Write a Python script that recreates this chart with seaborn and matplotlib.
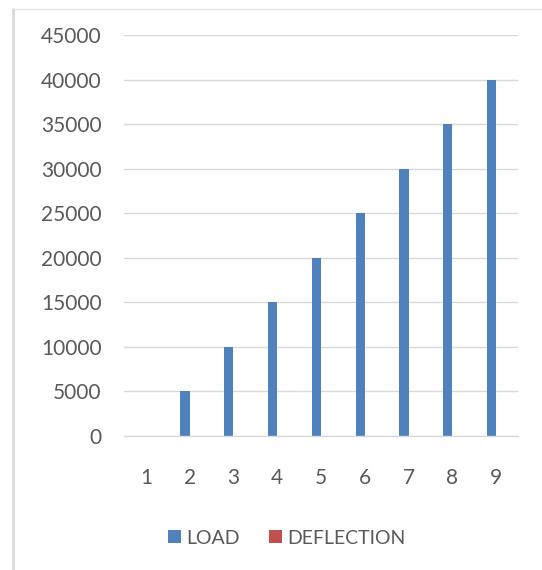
import matplotlib
matplotlib.use("Agg")
import matplotlib.pyplot as plt
from matplotlib.patches import Patch
import seaborn as sns
import pandas as pd

# Test readings per step
steps = ["1", "2", "3", "4", "5", "6", "7", "8", "9"]
load = [0, 5000, 10000, 15000, 20000, 25000, 30000, 35000, 40000]
deflection = [0, 0, 0, 0, 0, 0, 0, 0, 0]
y_ticks = [0, 5000, 10000, 15000, 20000, 25000, 30000, 35000, 40000, 45000]

series_names = ["LOAD", "DEFLECTION"]
colors = ["#4F81BD", "#C0504D"]
text_color = "#595959"

df = pd.DataFrame({
    "step": steps * 2,
    "value": load + deflection,
    "series": [series_names[0]] * len(steps) + [series_names[1]] * len(steps),
})

sns.set_theme(style="white")
plt.rcParams["font.family"] = ["Lato", "DejaVu Sans"]

fig = plt.figure(figsize=(5.42, 5.70), dpi=100)
ax = fig.add_axes([124 / 542, 1 - 436 / 570, (518 - 124) / 542, (436 - 35) / 570])

sns.barplot(data=df, x="step", y="value", hue="series", order=steps,
            hue_order=series_names, palette=colors, width=0.42,
            dodge=True, gap=0, saturation=1, ax=ax, legend=False)
for p in ax.patches:
    p.set_linewidth(0)

ax.set_ylim(0, 45000)
ax.set_yticks(y_ticks)
ax.set_yticklabels([str(v) for v in y_ticks])
ax.set_xlim(-0.5, len(steps) - 0.5)
ax.yaxis.grid(True, color="#D9D9D9", linewidth=1)
ax.set_axisbelow(True)
for s in ["top", "right", "left"]:
    ax.spines[s].set_visible(False)
ax.spines["bottom"].set_color("#D9D9D9")
ax.spines["bottom"].set_linewidth(1)
ax.set_xlabel("")
ax.set_ylabel("")
ax.tick_params(axis="y", length=0, pad=16, labelsize=15, labelcolor=text_color)
ax.tick_params(axis="x", length=0, pad=23, labelsize=15, labelcolor=text_color)

handles = [Patch(facecolor=c, edgecolor="none") for c in colors]
fig.legend(handles, series_names, loc="center", bbox_to_anchor=(287 / 542, 1 - 538 / 570),
           ncol=2, frameon=False, fontsize=14, labelcolor=text_color,
           handlelength=0.65, handleheight=0.65, handletextpad=0.3, columnspacing=1.5)

# chart area border
fig.add_artist(plt.Line2D([13 / 542, 13 / 542], [0, 1 - 9 / 570], transform=fig.transFigure,
                          color="#D9D9D9", linewidth=2))
fig.add_artist(plt.Line2D([13 / 542, 1], [1 - 9 / 570, 1 - 9 / 570], transform=fig.transFigure,
                          color="#E6E6E6", linewidth=1))

fig.savefig("out.png", dpi=100)
